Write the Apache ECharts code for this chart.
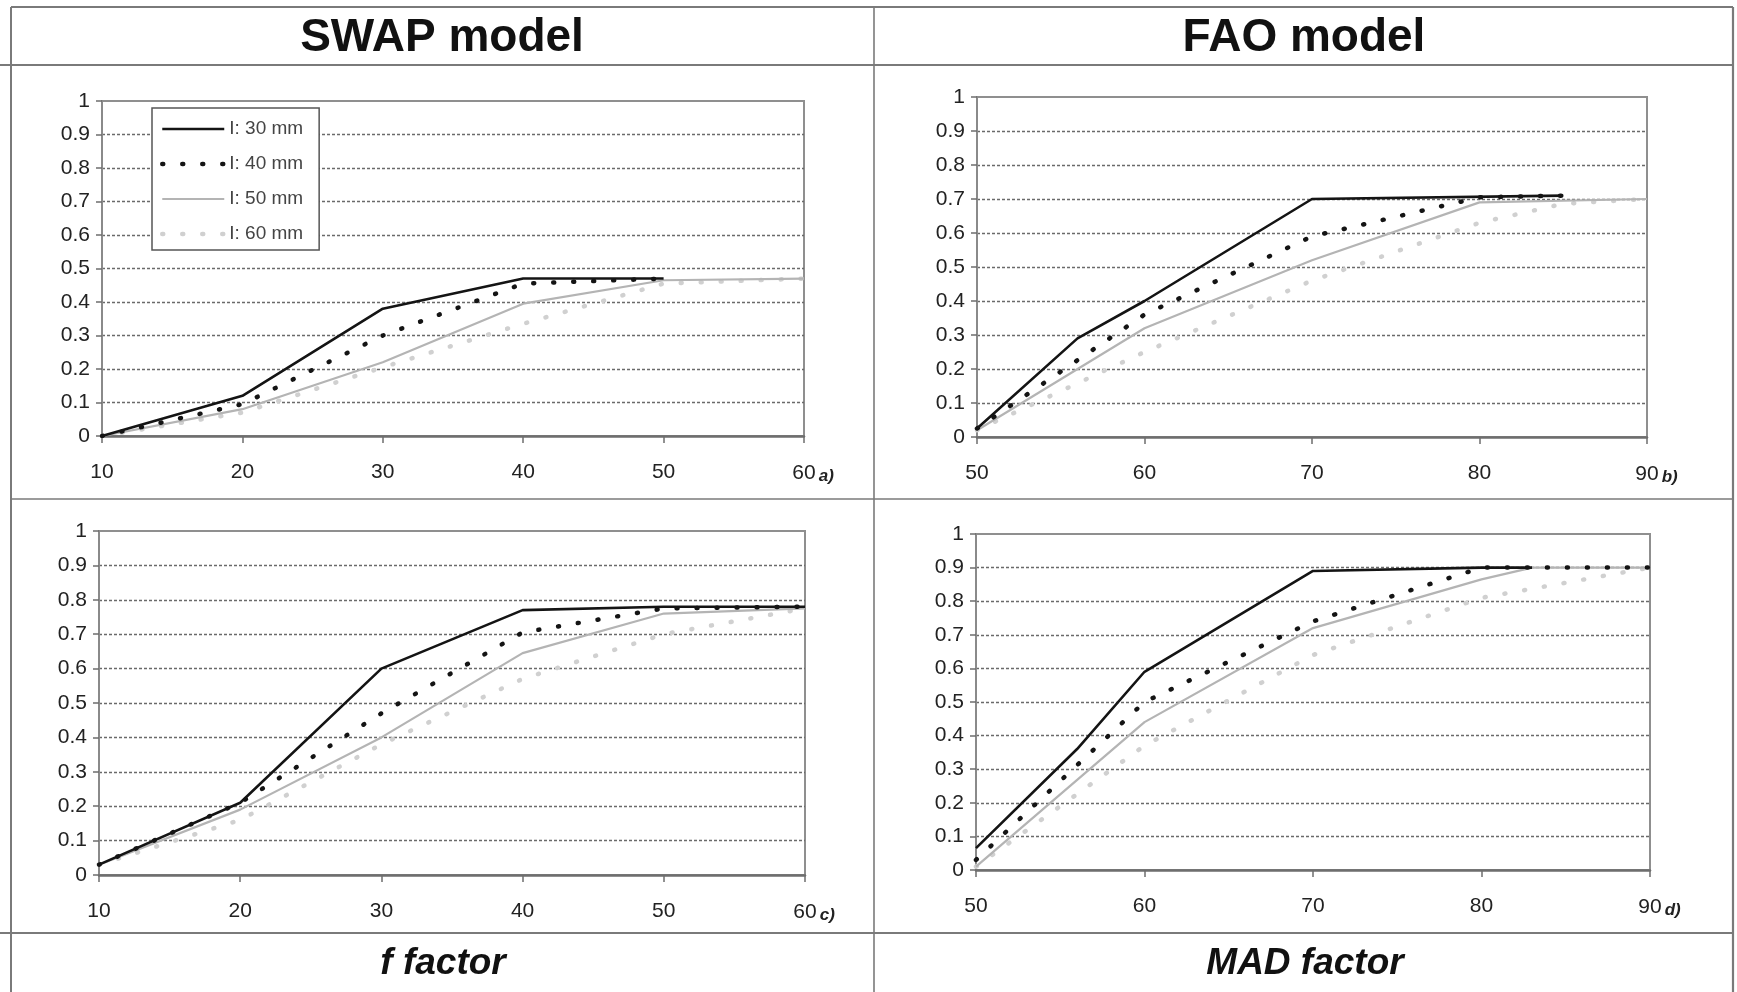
<!DOCTYPE html>
<html>
<head>
<meta charset="utf-8">
<script src="https://cdn.jsdelivr.net/npm/echarts@6/dist/echarts.min.js"></script>
<style>
html,body{margin:0;padding:0;background:#fff;}
#chart{width:1737px;height:992px;}
</style>
</head>
<body>
<div id="chart"></div>
<script>
// ---------- DATA ----------
const seriesNames = ['I: 30 mm', 'I: 40 mm', 'I: 50 mm', 'I: 60 mm'];
const columnTitles = ['SWAP model', 'FAO model'];
const rowLabels = ['f factor', 'MAD factor'];
const panelTags = ['a)', 'b)', 'c)', 'd)'];
const yTicks = [0, 1, 0.1];            // min, max, step
const xRangeSWAP = [10, 60, 10];       // min, max, step
const xRangeFAO = [50, 90, 10];

// a) SWAP model, upper row
const a_I30 = [[10,0.0],[20,0.12],[30,0.38],[40,0.47],[50,0.47]];
const a_I40 = [[10,0.0],[20,0.095],[30,0.30],[40,0.455],[50,0.47]];
const a_I50 = [[10,0.0],[20,0.08],[30,0.22],[40,0.395],[50,0.465],[60,0.47]];
const a_I60 = [[10,0.0],[20,0.07],[30,0.205],[40,0.335],[50,0.455],[60,0.47]];

// b) FAO model, upper row
const b_I30 = [[50,0.025],[56,0.29],[60,0.40],[70,0.70],[85,0.71]];
const b_I40 = [[50,0.025],[60,0.36],[70,0.59],[80,0.705],[85,0.71]];
const b_I50 = [[50,0.02],[60,0.32],[70,0.52],[80,0.69],[90,0.70]];
const b_I60 = [[50,0.02],[60,0.25],[70,0.46],[80,0.63],[85,0.686],[90,0.70]];

// c) SWAP model, f factor
const c_I30 = [[10,0.03],[20,0.21],[30,0.60],[40,0.77],[50,0.78],[60,0.78]];
const c_I40 = [[10,0.03],[20,0.21],[30,0.47],[40,0.705],[50,0.775],[60,0.78]];
const c_I50 = [[10,0.03],[20,0.19],[30,0.40],[40,0.645],[50,0.76],[60,0.775]];
const c_I60 = [[10,0.03],[20,0.16],[30,0.38],[40,0.57],[50,0.70],[60,0.775]];

// d) FAO model, MAD factor
const d_I30 = [[50,0.065],[56,0.36],[60,0.59],[70,0.89],[80,0.90],[83,0.90]];
const d_I40 = [[50,0.03],[60,0.50],[70,0.74],[80,0.90],[90,0.90]];
const d_I50 = [[50,0.01],[60,0.44],[70,0.72],[80,0.865],[83,0.90],[90,0.90]];
const d_I60 = [[50,0.01],[60,0.37],[70,0.64],[80,0.81],[90,0.90]];

// ---------- LAYOUT / STYLE ----------
const FONT = '"Liberation Sans", Arial, sans-serif';
const lineStyles = [
  {color:'#141414', width:2.6, type:'solid'},
  {color:'#141414', width:4.5, type:[1,19], cap:'round'},
  {color:'#b4b4b4', width:2.2, type:'solid'},
  {color:'#d0d0d0', width:4.5, type:[1,19], cap:'round'}
];

const panels = [
  {grid:{left:102, top:101, width:702, height:335}, xr:xRangeSWAP, tag:panelTags[0], data:[a_I30,a_I40,a_I50,a_I60]},
  {grid:{left:977, top:97,  width:670, height:340}, xr:xRangeFAO,  tag:panelTags[1], data:[b_I30,b_I40,b_I50,b_I60]},
  {grid:{left:99,  top:531, width:706, height:344}, xr:xRangeSWAP, tag:panelTags[2], data:[c_I30,c_I40,c_I50,c_I60]},
  {grid:{left:976, top:534, width:674, height:336}, xr:xRangeFAO,  tag:panelTags[3], data:[d_I30,d_I40,d_I50,d_I60]}
];

const grids = [], xAxes = [], yAxes = [], series = [];
panels.forEach((p, i) => {
  grids.push(Object.assign({show:true, borderColor:'#8f8f8f', borderWidth:2, backgroundColor:'#fff'}, p.grid));
  const xmax = p.xr[1];
  const tag = p.tag;
  xAxes.push({
    type:'value', gridIndex:i, min:p.xr[0], max:p.xr[1], interval:p.xr[2],
    axisLine:{show:true, lineStyle:{color:'#6e6e6e', width:2.5}},
    axisTick:{show:true, length:7, lineStyle:{color:'#6e6e6e', width:1.5}},
    splitLine:{show:false},
    axisLabel:{
      margin:26, fontSize:21, color:'#222', fontFamily:FONT,
      formatter:(v) => v === xmax ? '{g|' + tag + '}{n|' + v + '}{s|' + tag + '}' : '{n|' + v + '}',
      rich:{
        n:{fontSize:21, color:'#222', fontFamily:FONT},
        s:{fontSize:17, fontStyle:'italic', fontWeight:'bold', color:'#222', fontFamily:FONT, padding:[6,0,0,3]},
        g:{fontSize:17, fontStyle:'italic', fontWeight:'bold', color:'rgba(0,0,0,0)', fontFamily:FONT, padding:[6,3,0,0]}
      }
    }
  });
  yAxes.push({
    type:'value', gridIndex:i, min:yTicks[0], max:yTicks[1], interval:yTicks[2],
    axisLine:{show:true, lineStyle:{color:'#8a8a8a', width:2}},
    axisTick:{show:true, length:6, lineStyle:{color:'#6e6e6e', width:1.5}},
    axisLabel:{margin:12, fontSize:21, color:'#222', fontFamily:FONT},
    splitLine:{show:true, showMinLine:false, showMaxLine:false, lineStyle:{color:'#6a6a6a', width:1.3, type:[3,2]}}
  });
  // draw lightest first so black lines sit on top
  for (let k = 3; k >= 0; k--) {
    series.push({
      type:'line', name:seriesNames[k], xAxisIndex:i, yAxisIndex:i,
      data:p.data[k], symbol:'none', silent:true, animation:false,
      color:lineStyles[k].color,
      itemStyle:{color:lineStyles[k].color},
      lineStyle:Object.assign({}, lineStyles[k])
    });
  }
});

// frame lines of the table
const frameColor = '#7a7a7a';
function hline(x1, x2, y, w) { return {type:'line', silent:true, shape:{x1:x1, y1:y, x2:x2, y2:y}, style:{stroke:frameColor, lineWidth:w}}; }
function vline(x, y1, y2, w) { return {type:'line', silent:true, shape:{x1:x, y1:y1, x2:x, y2:y2}, style:{stroke:frameColor, lineWidth:w}}; }
function label(txt, x, y, font) {
  return {type:'text', silent:true, x:x, y:y, style:{text:txt, font:font, fill:'#111',
    align:'center', verticalAlign:'middle', textAlign:'center', textVerticalAlign:'middle'}};
}

const graphics = [
  hline(11, 1733, 7, 2),
  hline(0, 1733, 65, 2.2),
  hline(11, 1733, 499, 1.6),
  hline(0, 1733, 933, 2),
  vline(11, 7, 992, 2),
  vline(874, 7, 992, 1.6),
  vline(1733, 7, 992, 2.2),
  label(columnTitles[0], 442, 38, 'bold 46px ' + FONT),
  label(columnTitles[1], 1304, 38, 'bold 46px ' + FONT),
  label(rowLabels[0], 443, 964, 'italic bold 37px ' + FONT),
  label(rowLabels[1], 1305, 964, 'italic bold 37px ' + FONT)
];

const legendData = seriesNames.map((n, k) => ({
  name:n,
  itemStyle:{opacity:0, color:'rgba(0,0,0,0)', borderWidth:0},
  lineStyle:{color:lineStyles[k].color, width:lineStyles[k].width, type:lineStyles[k].type, cap:lineStyles[k].cap || 'butt'}
}));

const chart = echarts.init(document.getElementById('chart'), null, {renderer:'canvas'});
chart.setOption({
  animation:false,
  backgroundColor:'#fff',
  grid:grids,
  xAxis:xAxes,
  yAxis:yAxes,
  series:series,
  legend:{
    data:legendData, left:152, top:108, orient:'vertical',
    itemWidth:62, itemHeight:14, itemGap:15,
    padding:[11,16,6,8],
    borderColor:'#555', borderWidth:1.5, backgroundColor:'#fff',
    selectedMode:false,
    itemStyle:{opacity:0},
    textStyle:{fontSize:19, color:'#444', fontFamily:FONT, lineHeight:20}
  },
  graphic:graphics
});
</script>
</body>
</html>
